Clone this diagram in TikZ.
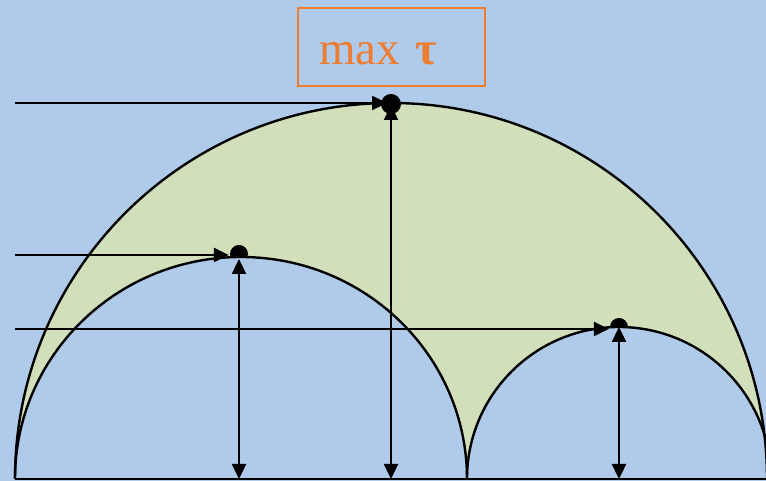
\documentclass[tikz,border=0pt]{standalone}
\usepackage{fontspec}
\setmainfont{Liberation Serif}
\usetikzlibrary{arrows.meta}
\definecolor{skyblue}{RGB}{176,202,234}
\definecolor{leafgreen}{RGB}{209,223,187}
\definecolor{labelorange}{RGB}{237,125,49}
\tikzset{
  dot/.style={circle,fill=black,inner sep=0pt,minimum size=18pt},
  arr/.style={-{Triangle[length=15pt,width=14pt]}},
  darr/.style={{Triangle[length=15pt,width=14pt]}-{Triangle[length=15pt,width=14pt]}},
}
\begin{document}
\begin{tikzpicture}[x=1pt,y=1pt,line width=2.4pt]
  % background
  \fill[skyblue] (0,0) rectangle (766,481);
  \useasboundingbox (0,0) rectangle (766,481);
  \clip (0,0) rectangle (766,481);
  % label box
  \node[draw=labelorange,line width=1.5pt,minimum height=78pt,
    text width=145pt,inner xsep=21pt,align=left,text=labelorange,
    text height=36pt,text depth=0pt,
    font=\fontsize{47}{50}\selectfont] (maxbox) at (391.5,434)
    {max \textbf{τ}};
  % green area inside the big circle
  \fill[leafgreen] (15,2) arc[start angle=180,end angle=0,radius=376];
  % dots of the small circles, half hidden
  \node[dot] (dotleft) at (239,227) {};
  \node[dot] (dotright) at (619,154) {};
  \fill[skyblue] (15,2) arc[start angle=180,end angle=0,x radius=226,y radius=222];
  \fill[skyblue] (467,2) arc[start angle=180,end angle=0,radius=152];
  % circle outlines
  \draw (15,2) arc[start angle=180,end angle=0,radius=376];
  \draw (15,2) arc[start angle=180,end angle=0,x radius=226,y radius=222];
  \draw (467,2) arc[start angle=180,end angle=0,radius=152];
  \draw[line width=1.5pt] (15,2) -- (766,2);
  % arrows
  \coordinate (startbig) at (15,378);
  \coordinate (startleft) at (15,226);
  \coordinate (startright) at (15,152);
  \coordinate (footbig) at (391,2);
  \coordinate (footleft) at (239,2);
  \coordinate (footright) at (619,2);
  \draw[arr] (startbig) -- (387,378);
  \draw[arr] (startleft) -- (dotleft.west |- startleft);
  \draw[arr] (startright) -- (dotright.west |- startright);
  \draw[darr] (footbig) -- (391,376);
  \draw[darr] (footleft) -- (239,222);
  \draw[darr] (footright) -- (dotright.center);
  \node[dot,minimum size=20pt] (dotbig) at (391,377) {};
\end{tikzpicture}
\end{document}
